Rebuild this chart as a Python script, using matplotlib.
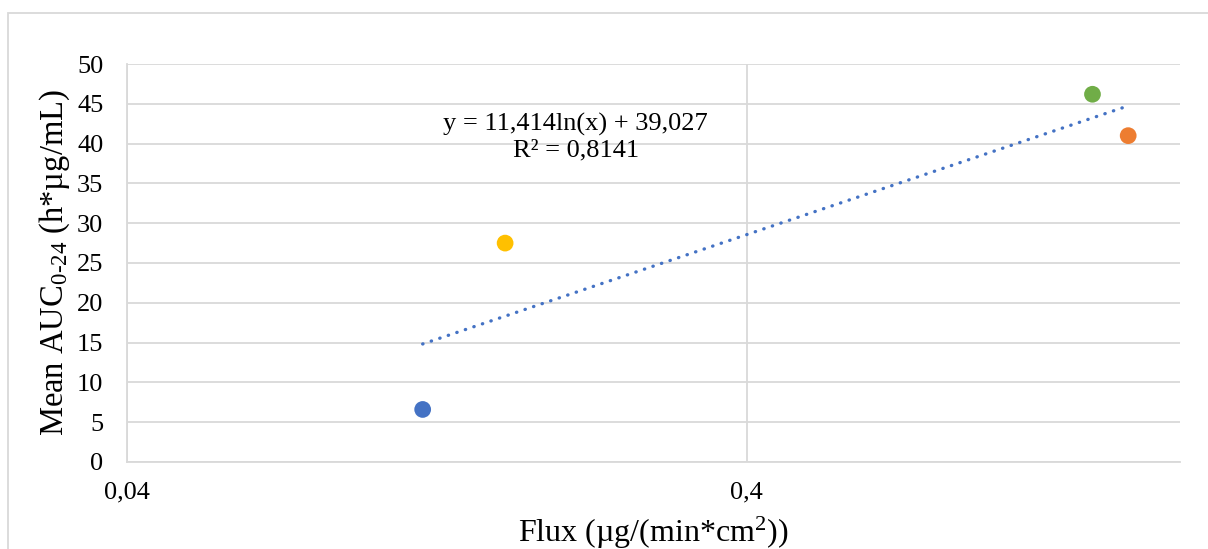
import numpy as np
import matplotlib.pyplot as plt
from matplotlib.patches import Rectangle
from matplotlib.ticker import FixedLocator, NullLocator

plt.rcParams['font.family'] = ['Liberation Serif', 'DejaVu Serif']
plt.rcParams['mathtext.fontset'] = 'custom'
plt.rcParams['mathtext.rm'] = 'Liberation Serif'
plt.rcParams['mathtext.it'] = 'Liberation Serif'  # курсив не нужен
plt.rcParams['mathtext.default'] = 'rm'

# данные
flux = [0.12, 0.163, 1.445, 1.65]
auc = [6.6, 27.5, 46.2, 41.0]
colors = ['#4472C4', '#FFC000', '#70AD47', '#ED7D31']

# логарифмический тренд из подписи
coef_a, coef_b = 11.414, 39.027
eq_text = 'y = 11,414ln(x) + 39,027\nR² = 0,8141'

x_ticks = [0.04, 0.4]
x_labels = ['0,04', '0,4']
y_ticks = list(range(0, 51, 5))

fig = plt.figure(figsize=(12.08, 5.49), dpi=100)
ax = fig.add_axes([0.1051, 0.1585, 0.8717, 0.7249])

# рамка области диаграммы
fig.patches.append(Rectangle((8 / 1208, -0.2), 1.2, 1.2 - 13 / 549,
                             transform=fig.transFigure, fill=False,
                             edgecolor='#D9D9D9', lw=1.3))

x_fit = np.geomspace(min(flux), max(flux), 200)
ax.plot(x_fit, coef_a * np.log(x_fit) + coef_b, color='#4472C4', lw=2.4,
        linestyle=(0, (0.1, 2.6)), dash_capstyle='round', zorder=2)
ax.scatter(flux, auc, c=colors, s=145, zorder=3, linewidths=0)

ax.set_xscale('log')
ax.set_xlim(0.04, 2.0)
ax.set_ylim(0, 50)
ax.xaxis.set_major_locator(FixedLocator(x_ticks))
ax.xaxis.set_minor_locator(NullLocator())
ax.set_xticks(x_ticks, x_labels)
ax.set_yticks(y_ticks)
ax.tick_params(length=0, labelsize=19)
ax.tick_params(axis='x', pad=14)
ax.tick_params(axis='y', pad=17)

ax.grid(True, color='#D9D9D9', lw=1.3)
ax.set_axisbelow(True)
for s in ['top', 'right']:
    ax.spines[s].set_visible(False)
for s in ['left', 'bottom']:
    ax.spines[s].set_color('#D9D9D9')
    ax.spines[s].set_linewidth(1.3)

ax.text(0.212, 40.8, eq_text, ha='center', va='center', fontsize=19,
        linespacing=1.2)

ax.set_ylabel('Mean AUC$_{\\mathrm{0\u201024}}$ (h*µg/mL)', fontsize=23.5)
ax.yaxis.set_label_coords(-0.052, 0.5)
ax.set_xlabel('Flux (µg/(min*cm$^{\\mathrm{2}}$))', fontsize=23, labelpad=8)

fig.savefig('out.png', dpi=100)
